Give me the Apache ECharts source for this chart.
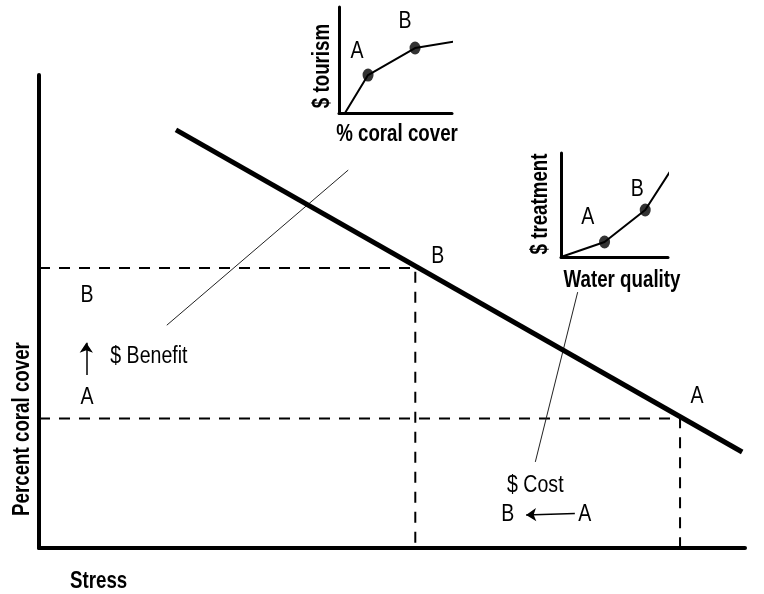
<!DOCTYPE html>
<html>
<head>
<meta charset="utf-8">
<script src="https://cdn.jsdelivr.net/npm/echarts@6/dist/echarts.min.js"></script>
<style>
  html, body { margin: 0; padding: 0; background: #fff; }
  #chart { width: 764px; height: 594px; }
</style>
</head>
<body>
<div id="chart"></div>
<script>
// main diagram, both axes 0..100
const stressLine = [[19.4, 88.4], [99.6, 20.3]];
const pointB = [53.3, 59.2];
const pointA = [90.8, 27.4];
const benefitLeader = [[43.8, 79.9], [18.1, 47.1]];
const costLeader = [[76.3, 54.1], [70.3, 18.2]];
const benefitArrow = [[6.7, 36.6], [6.7, 43.4]];
const costArrow = [[75.9, 7.3], [69.0, 7.0]];
const mainLabels = [
  { text: "B", x: 56.5, y: 61.6, align: "center" },
  { text: "A", x: 93.2, y: 32.0, align: "center" },
  { text: "B", x: 6.8, y: 53.3, align: "center" },
  { text: "A", x: 6.8, y: 31.7, align: "center" },
  { text: "$ Benefit", x: 10.1, y: 40.4, align: "left" },
  { text: "$ Cost", x: 70.3, y: 13.1, align: "center" },
  { text: "B", x: 66.4, y: 7.0, align: "center" },
  { text: "A", x: 77.3, y: 7.0, align: "center" }
];

// inset: $ tourism vs % coral cover
const tourismCurve = [[5.3, 0], [25.7, 35.8], [67.3, 61.3], [104.4, 67.9]];
const tourismPoints = [[25.7, 35.8], [67.3, 61.3]];
const tourismLabels = [
  { text: "A", x: 15.9, y: 57.5 },
  { text: "B", x: 58.4, y: 85.8 }
];

// inset: $ treatment vs water quality
const treatmentCurve = [[0, 0], [40.7, 14.4], [78.7, 45.2], [108.3, 92.3]];
const treatmentPoints = [[40.7, 14.4], [78.7, 45.2]];
const treatmentLabels = [
  { text: "A", x: 25.0, y: 37.5 },
  { text: "B", x: 71.3, y: 64.4 }
];

// axis titles (text only, placed by pixel)
const axisTitles = [
  { text: "Stress", x: 70, y: 581, rotate: 0, align: "left" },
  { text: "Percent coral cover", x: 22, y: 429, rotate: 90, align: "center" },
  { text: "% coral cover", x: 397, y: 134, rotate: 0, align: "center" },
  { text: "$ tourism", x: 322, y: 66, rotate: 90, align: "center" },
  { text: "Water quality", x: 622, y: 280, rotate: 0, align: "center" },
  { text: "$ treatment", x: 540, y: 204, rotate: 90, align: "center" }
];

const FONT = '"Liberation Sans", Arial, sans-serif';
const REG = "23px " + FONT;
const BOLD = "bold 24px " + FONT;

const chart = echarts.init(document.getElementById("chart"));

function plainAxis(gridIndex, width) {
  return {
    type: "value",
    gridIndex: gridIndex,
    min: 0,
    max: 100,
    axisLine: { show: true, lineStyle: { color: "#000", width: width } },
    axisTick: { show: false },
    axisLabel: { show: false },
    splitLine: { show: false }
  };
}

function textEl(text, x, y, font, align, rotate, sx) {
  return {
    type: "text",
    x: x,
    y: y,
    rotation: (rotate || 0) * Math.PI / 180,
    scaleX: sx,
    z: 100,
    style: {
      text: text,
      font: font,
      fill: "#000",
      align: align || "center",
      verticalAlign: "middle"
    }
  };
}

const option = {
  animation: false,
  backgroundColor: "#fff",
  grid: [
    { left: 39, top: 75, right: 19, bottom: 46 },
    { left: 339, top: 7, width: 113, height: 106 },
    { left: 561, top: 153, width: 107, height: 104 }
  ],
  xAxis: [plainAxis(0, 4), plainAxis(1, 3), plainAxis(2, 3)],
  yAxis: [plainAxis(0, 4), plainAxis(1, 3), plainAxis(2, 3)],
  series: [
    {
      type: "line",
      data: stressLine,
      showSymbol: false,
      lineStyle: { color: "#000", width: 5 },
      z: 5
    },
    {
      type: "line",
      data: [[0, pointB[1]], pointB, [pointB[0], 0]],
      showSymbol: false,
      lineStyle: { color: "#000", width: 2, type: [11, 9] }
    },
    {
      type: "line",
      data: [[0, pointA[1]], pointA, [pointA[0], 0]],
      showSymbol: false,
      lineStyle: { color: "#000", width: 2, type: [11, 9] }
    },
    {
      type: "line",
      data: benefitLeader,
      showSymbol: false,
      lineStyle: { color: "#222", width: 1 }
    },
    {
      type: "line",
      data: costLeader,
      showSymbol: false,
      lineStyle: { color: "#222", width: 1 }
    },
    {
      type: "lines",
      coordinateSystem: "cartesian2d",
      symbol: ["none", "arrow"],
      symbolSize: 10,
      lineStyle: { color: "#000", width: 1.5, opacity: 1 },
      data: [{ coords: benefitArrow }, { coords: costArrow }]
    },
    {
      type: "line",
      xAxisIndex: 1,
      yAxisIndex: 1,
      data: tourismCurve,
      showSymbol: false,
      clip: false,
      lineStyle: { color: "#000", width: 2 }
    },
    {
      type: "scatter",
      xAxisIndex: 1,
      yAxisIndex: 1,
      data: tourismPoints,
      symbol: "circle",
      symbolSize: [11, 13],
      itemStyle: { color: "#000" }
    },
    {
      type: "line",
      xAxisIndex: 2,
      yAxisIndex: 2,
      data: treatmentCurve,
      showSymbol: false,
      clip: false,
      lineStyle: { color: "#000", width: 2 }
    },
    {
      type: "scatter",
      xAxisIndex: 2,
      yAxisIndex: 2,
      data: treatmentPoints,
      symbol: "circle",
      symbolSize: [11, 13],
      itemStyle: { color: "#000" }
    }
  ]
};

chart.setOption(option);

// letters and captions placed through the grids' own scales
const graphics = [];
function addLabels(items, gridIndex) {
  items.forEach((d) => {
    const p = chart.convertToPixel({ gridIndex: gridIndex }, [d.x, d.y]);
    graphics.push(textEl(d.text, p[0], p[1], REG, d.align, 0, 0.85));
  });
}
addLabels(mainLabels, 0);
addLabels(tourismLabels, 1);
addLabels(treatmentLabels, 2);
axisTitles.forEach((t) => {
  graphics.push(textEl(t.text, t.x, t.y, BOLD, t.align, t.rotate, 0.78));
});

chart.setOption({ graphic: graphics });
</script>
</body>
</html>
